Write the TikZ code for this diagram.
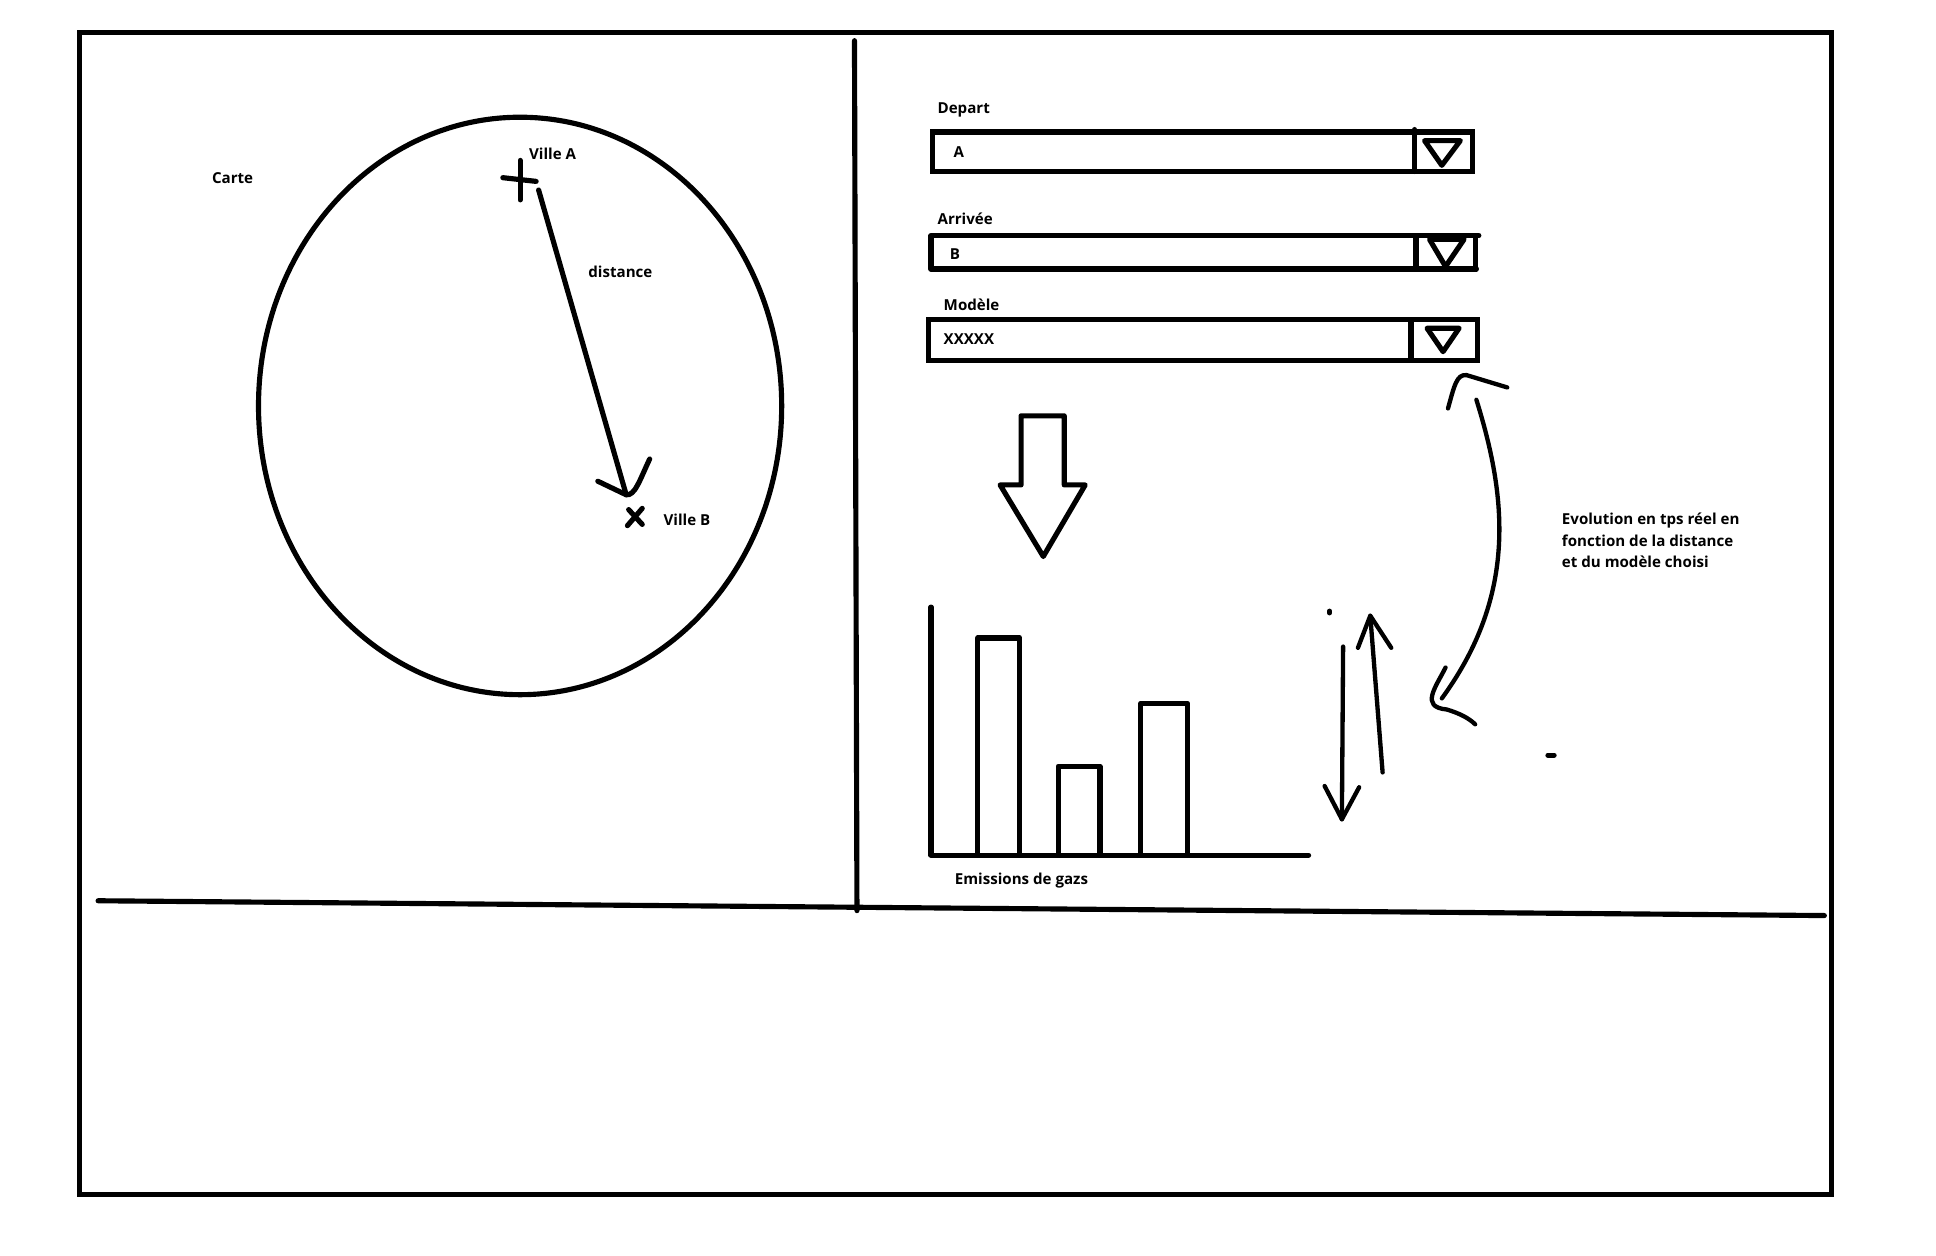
\documentclass[tikz,border=0pt]{standalone}
\usepackage{fontspec}
\setmainfont{Open Sans}
\begin{document}
\begin{tikzpicture}[x=0.6pt,y=-0.6pt,
        trait/.style={line width=2.5pt,line cap=round,line join=round},
        fin/.style={line width=2.1pt,line cap=round,line join=round},
        lbl/.style={anchor=west,inner sep=0pt,font=\bfseries\fontsize{7.35}{10.5}\selectfont,align=left}]
\useasboundingbox (-0.5,-1) rectangle (1568.5,1016.9);

% cadre
\draw[trait,line join=miter] (64,25) rectangle (1484,967);
\draw[trait] (692,32) -- (694,737);
\draw[trait] (79,729) -- (1478,741);

% carte
\draw[trait] (421,328) ellipse (212 and 234);
\draw[trait] (421,129) -- (421,161);
\draw[trait] (407,143) -- (434,146);
\draw[trait] (509,412) -- (520,424);
\draw[trait] (520,411) -- (508,425);
\node[lbl] (carte) at (171,143) {Carte};
\node[lbl] (villeA) at (428,124) {Ville A};
\node[lbl] (villeB) at (537,420) {Ville B};
\node[lbl] (dist) at (476,219) {distance};
\coordinate (debut) at (436,153);
\coordinate (fin) at (507,400);
\draw[trait] (debut) -- (fin);
\draw[trait] (484,389) -- (fin) .. controls (514,401) and (518,388) .. (526,371);

% listes
\draw[trait,line join=miter] (755,106) rectangle (1193,138);
\draw[trait] (1146,104) -- (1146,138);
\draw[trait] (1154,113) -- (1183,113) -- (1168,133) -- cycle;
\draw[trait] (1198,190) -- (754,190) -- (754,217) -- (1196,217);
\draw[trait] (1195,190) -- (1195,217);
\draw[trait] (1147,190) -- (1147,217);
\draw[trait] (1158,193) -- (1186,193) -- (1171,215) -- cycle;
\draw[trait,line join=miter] (752,258) rectangle (1197,291);
\draw[trait] (1143,258) -- (1143,291);
\draw[trait] (1156,265) -- (1182,265) -- (1169,284) -- cycle;
\node[lbl] (depart) at (759,88) {Depart};
\node[lbl] (a) at (772,122) {A};
\node[lbl] (arrivee) at (759,176) {Arrivée};
\node[lbl] (b) at (769,205) {B};
\node[lbl] (modele) at (764,246) {Modèle};
\node[lbl] (xxx) at (764,274) {XXXXX};

% grosse fleche
\draw[trait] (827,336) -- (862,336) -- (862,392) -- (879,392) -- (845,450) -- (810,392) -- (827,392) -- cycle;

% histogramme
\draw[trait] (754,491) -- (754,692) -- (1060,692);
\draw[trait] (792,692) -- (792,516) -- (826,516) -- (826,692);
\draw[trait] (857,692) -- (857,620) -- (891,620) -- (891,692);
\draw[trait] (924,692) -- (924,569) -- (962,569) -- (962,692);
\node[lbl] (gaz) at (773,713) {Emissions de gazs};

% fleches
\draw[fin] (1077,494) -- (1077,496);
\coordinate (haut) at (1110,498);
\coordinate (bas) at (1120,625);
\draw[fin] (bas) -- (haut);
\draw[fin] (1100,524) -- (haut) -- (1127,524);
\coordinate (haut2) at (1088,523);
\coordinate (bas2) at (1087,663);
\draw[fin] (haut2) -- (bas2);
\draw[fin] (1073,636) -- (bas2) -- (1101,637);
\coordinate (courbeH) at (1196,323);
\coordinate (courbeB) at (1168,565);
\draw[fin] (courbeH) .. controls (1220,400) and (1230,480) .. (courbeB);
\draw[fin] (1173,330) .. controls (1178,312) and (1180,302) .. (1188,303) -- (1221,313);
\draw[fin] (1171,540) .. controls (1163,556) and (1150,572) .. (1172,574) .. controls (1182,577) and (1190,581) .. (1195,586);
\draw[trait] (1254,611) -- (1259,611);
\node[lbl,anchor=north west] (evol) at (1265,414.5) {Evolution en tps réel en\\fonction de la distance\\et du modèle choisi};
\end{tikzpicture}
\end{document}
